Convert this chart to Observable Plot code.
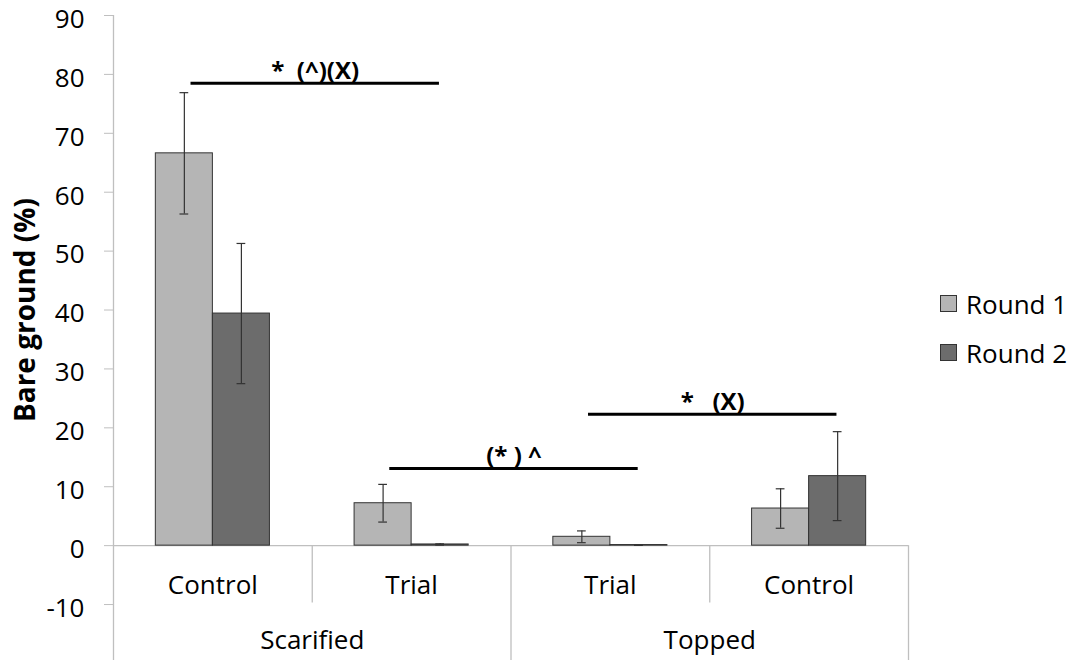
<!DOCTYPE html>
<html>
<head>
<meta charset="utf-8">
<script src="https://cdn.jsdelivr.net/npm/d3@7"></script>
<script src="https://cdn.jsdelivr.net/npm/@observablehq/plot@0.6"></script>
<style>
  body { margin: 0; background: #fff; font-family: "Open Sans", sans-serif; }
  #chart { position: relative; width: 1076px; height: 665px; }
  #chart svg { position: absolute; left: 0; top: 0; }
  .legend { position: absolute; left: 940px; top: 279px; font-size: 26px; color: #000; }
  .legend .row { display: flex; align-items: center; height: 49px; }
  .legend .sw { width: 15px; height: 15px; border: 1px solid #333; margin-right: 9px; }
</style>
</head>
<body>
<div id="chart"></div>
<script>
// Categories: sub-category (inner axis row) and treatment (outer axis row)
const subcategories = ["Control", "Trial", "Trial", "Control"];
const treatments = ["Scarified", "Scarified", "Topped", "Topped"];
const series = ["Round 1", "Round 2"];

// Bare ground (%) means and error half-widths
const round1 = [66.6, 7.2, 1.5, 6.3];
const round2 = [39.4, 0.2, 0.1, 11.8];
const round1Err = [10.3, 3.2, 1.0, 3.35];
const round2Err = [11.9, 0.1, 0.05, 7.55];

// Significance brackets: from group, to group, height, label
const bracketFrom = [0, 1, 2];
const bracketTo = [1, 2, 3];
const bracketY = [78.5, 13.1, 22.3];
const bracketLabel = ["*\u00a0\u00a0(^)(X)", "(*\u00a0)\u00a0^", "*\u00a0\u00a0\u00a0(X)"];

const yTicks = [-10, 0, 10, 20, 30, 40, 50, 60, 70, 80, 90];
const yLabel = "Bare ground (%)";

const colors = ["#b5b5b5", "#6c6c6c"];
const axisGray = "#bfbfbf";
const font = "Open Sans";

// Layout of the bar pair inside each category band (band = 1 unit on x)
const pairGap = 0.213, barW = 0.287;
const yMin = -19.5, yMax = 90;

const errs = [round1Err, round2Err];
const rows = [];
subcategories.forEach((c, g) => {
  [round1, round2].forEach((vals, r) => {
    const x1 = g + pairGap + r * barW;
    rows.push({ g, series: series[r], value: vals[g], err: errs[r][g], x1, x2: x1 + barW, xc: x1 + barW / 2 });
  });
});

const groups = subcategories.map((name, i) => ({ name, xc: i + 0.5 }));

// Treatment labels centred over their run of categories
const treatmentGroups = [];
treatments.forEach((t, i) => {
  const last = treatmentGroups[treatmentGroups.length - 1];
  if (last && last.name === t) last.end = i + 1;
  else treatmentGroups.push({ name: t, start: i, end: i + 1 });
});

// Separators on the category axis: short between sub-categories, long between treatments
const separators = [];
for (let i = 1; i <= subcategories.length; i++) {
  const long = i === subcategories.length || treatments[i] !== treatments[i - 1];
  separators.push({ x: i, y2: long ? yMin : yMin / 2 });
}

const brackets = bracketFrom.map((f, i) => ({
  x1: f + 0.39, x2: bracketTo[i] + 0.64, y: bracketY[i], label: bracketLabel[i]
}));

const chart = Plot.plot({
  width: 1076,
  height: 665,
  marginLeft: 113,
  marginRight: 168,
  marginTop: 15,
  marginBottom: 5,
  style: { fontFamily: font, fontSize: "26px", background: "transparent", overflow: "visible" },
  x: { domain: [0, subcategories.length], axis: null },
  y: { domain: [yMin, yMax], axis: null },
  color: { domain: series, range: colors },
  marks: [
    // value axis: line, tick marks, and labels sitting slightly below each tick
    Plot.ruleX([0], { y1: yMin, y2: yMax, stroke: axisGray, strokeWidth: 1.3 }),
    Plot.axisY({ ticks: yTicks, tickSize: 9, stroke: axisGray, tickFormat: () => "", label: null }),
    Plot.axisY({ ticks: yTicks, tickSize: 0, tickPadding: 29, dy: 4, fill: "#000", fontSize: 26, tickFormat: d => `${d}`, label: null }),
    // category axis
    Plot.ruleY([0], { x1: 0, x2: subcategories.length, stroke: axisGray, strokeWidth: 1.3 }),
    Plot.ruleX(separators, { x: "x", y1: 0, y2: "y2", stroke: axisGray, strokeWidth: 1.3 }),
    Plot.text(groups, { x: "xc", y: () => 0, text: "name", dy: 40, fontSize: 26, fill: "#000" }),
    Plot.text(treatmentGroups, { x: d => (d.start + d.end) / 2, y: () => 0, text: "name", dy: 95, fontSize: 26, fill: "#000" }),
    // bars
    Plot.rectY(rows, { x1: "x1", x2: "x2", y1: 0, y2: "value", fill: "series", stroke: "#333", strokeWidth: 1 }),
    // error bars
    Plot.ruleX(rows, { x: "xc", y1: d => d.value - d.err, y2: d => d.value + d.err, stroke: "#333", strokeWidth: 1.2 }),
    Plot.ruleY(rows, { x1: d => d.xc - 0.022, x2: d => d.xc + 0.022, y: d => d.value + d.err, stroke: "#333", strokeWidth: 1.2 }),
    Plot.ruleY(rows, { x1: d => d.xc - 0.022, x2: d => d.xc + 0.022, y: d => d.value - d.err, stroke: "#333", strokeWidth: 1.2 }),
    // significance brackets
    Plot.ruleY(brackets, { x1: "x1", x2: "x2", y: "y", stroke: "#000", strokeWidth: 3 }),
    Plot.text(brackets, { x: d => (d.x1 + d.x2) / 2, y: "y", text: "label", lineAnchor: "bottom", dy: -4, fontSize: 24, fontWeight: "bold", fill: "#000" }),
    // y label
    Plot.text([yLabel], { frameAnchor: "left", y: () => (yTicks[0] + yTicks[yTicks.length - 1]) / 2, text: d => d, rotate: -90, textAnchor: "middle", dx: -87, fontSize: 28, fontWeight: "bold", fill: "#000" })
  ]
});

const root = document.getElementById("chart");
root.appendChild(chart);

// Legend
const legend = document.createElement("div");
legend.className = "legend";
series.forEach((s, i) => {
  const row = document.createElement("div");
  row.className = "row";
  const sw = document.createElement("span");
  sw.className = "sw";
  sw.style.background = colors[i];
  const label = document.createElement("span");
  label.textContent = s;
  row.appendChild(sw);
  row.appendChild(label);
  legend.appendChild(row);
});
root.appendChild(legend);
</script>
</body>
</html>
